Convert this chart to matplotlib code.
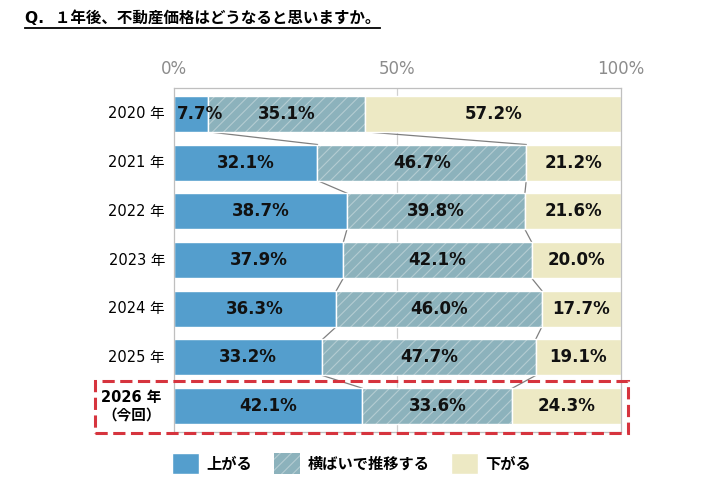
import numpy as np
import matplotlib.pyplot as plt
import matplotlib.transforms as mtransforms
from matplotlib.patches import Rectangle, Patch

plt.rcParams['font.family'] = ['DejaVu Sans', 'Noto Sans CJK JP']
plt.rcParams['hatch.linewidth'] = 0.8

years = ['2020 年', '2021 年', '2022 年', '2023 年', '2024 年', '2025 年', '2026 年\n（今回）']
up = [7.7, 32.1, 38.7, 37.9, 36.3, 33.2, 42.1]
flat = [35.1, 46.7, 39.8, 42.1, 46.0, 47.7, 33.6]
down = [57.2, 21.2, 21.6, 20.0, 17.7, 19.1, 24.3]
series_names = ['上がる', '横ばいで推移する', '下がる']

c_up = '#549ecd'
c_flat = '#8cb2bc'
c_down = '#ede9c4'
c_hatch = '#b4ccd2'

fig = plt.figure(figsize=(7.21, 4.87), dpi=100)
ax = fig.add_axes([0.2413, 0.1129, 0.62, 0.7064])

y = np.arange(len(years))
h = 0.74
up = np.array(up)
flat = np.array(flat)
down = np.array(down)

ax.axvline(50, color='#d0d0d0', lw=0.9, zorder=0)
ax.barh(y, up, height=h, color=c_up, edgecolor='white', lw=1, zorder=2)
ax.barh(y, flat, left=up, height=h, color=c_flat, edgecolor=c_hatch, lw=0,
        hatch='///', zorder=2)
ax.barh(y, flat, left=up, height=h, fill=False, edgecolor='white', lw=1, zorder=2)
ax.barh(y, down, left=up + flat, height=h, color=c_down, edgecolor='white', lw=1,
        zorder=2)

# series lines between bars
for cum in [up, up + flat]:
    for i in range(len(y) - 1):
        ax.plot([cum[i], cum[i + 1]], [y[i] + h / 2, y[i + 1] - h / 2],
                color='#7f7f7f', lw=0.9, zorder=1)

# data labels
for left, vals in [(np.zeros(len(y)), up), (up, flat), (up + flat, down)]:
    for i in range(len(y)):
        if vals[i] < 10:
            ax.text(left[i] + 0.6, y[i], f'{vals[i]:.1f}%', ha='left', va='center',
                    fontsize=12, fontweight='bold', color='#111111', zorder=3)
        else:
            ax.text(left[i] + vals[i] / 2, y[i], f'{vals[i]:.1f}%', ha='center', va='center',
                    fontsize=12, fontweight='bold', color='#111111', zorder=3)

ax.set_xlim(0, 100)
ax.set_ylim(len(y) - 0.47, -0.53)
ax.xaxis.tick_top()
ax.set_xticks([0, 50, 100])
ax.set_xticklabels(['0%', '50%', '100%'])
ax.tick_params(axis='x', length=0, pad=7, labelsize=12, labelcolor='#8c8c8c')
ax.set_yticks(y)
ax.set_yticklabels([])
ax.tick_params(axis='y', length=0)
for s in ax.spines.values():
    s.set_color('#bfbfbf')
    s.set_linewidth(0.9)

tr = mtransforms.blended_transform_factory(ax.transAxes, ax.transData)
for i, lab in enumerate(years):
    if i == len(years) - 1:
        ax.text(-0.095, y[i], lab, transform=tr, ha='center', va='center',
                fontsize=10.5, fontweight='bold', linespacing=1.2)
    else:
        ax.text(-0.02, y[i], lab, transform=tr, ha='right', va='center', fontsize=10.5)

# highlight box for latest year
ax.add_patch(Rectangle((-0.177, y[-1] + 0.55), 1.193, -1.07, transform=tr, fill=False,
                       edgecolor='#d6343e', lw=2.2, ls=(0, (4, 1.8)), clip_on=False, zorder=5))

handles = [Patch(facecolor=c_up, edgecolor='white'),
           Patch(facecolor=c_flat, edgecolor=c_hatch, hatch='///', lw=0),
           Patch(facecolor=c_down, edgecolor='white')]
fig.legend(handles, series_names, loc='center left', bbox_to_anchor=(0.2195, 0.0475),
           ncol=3, frameon=False, handlelength=1.75, handleheight=1.75,
           handletextpad=0.5, columnspacing=1.4,
           prop={'size': 11, 'weight': 'bold'})

# title with underline
t = fig.text(0.034, 0.963, 'Q.  １年後、不動産価格はどうなると思いますか。', fontsize=11.2,
             fontweight='bold', ha='left', va='center')
fig.canvas.draw()
bb = t.get_window_extent().transformed(fig.transFigure.inverted())
fig.add_artist(plt.Line2D([bb.x0, bb.x1], [bb.y0 - 0.004, bb.y0 - 0.004], color='black',
                          lw=1.3, transform=fig.transFigure))

fig.savefig('out.png', dpi=100)
